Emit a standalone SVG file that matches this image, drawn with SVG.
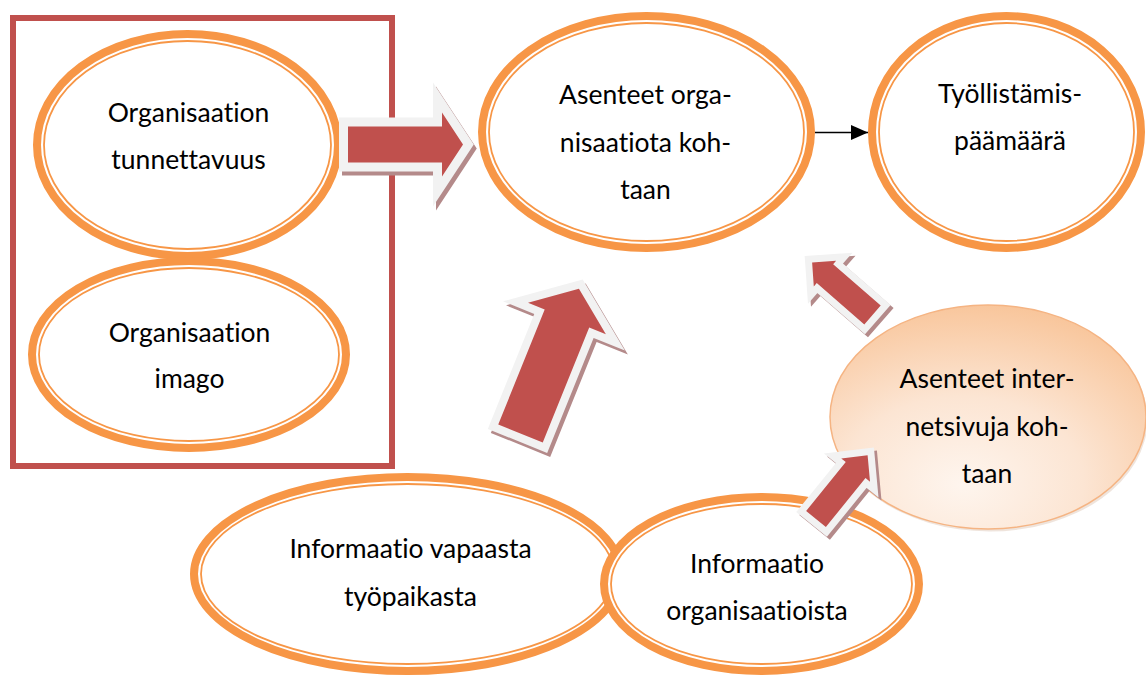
<svg xmlns="http://www.w3.org/2000/svg" width="1146" height="676" viewBox="0 0 1146 676">
<defs>
<style>
.thick{fill:#fff;stroke:#F79646;stroke-width:8}
.thin{fill:none;stroke:#F79646;stroke-width:1.8}
.lbl{font-family:Lato,"Open Sans","DejaVu Sans",sans-serif;font-size:26.5px;fill:#000;text-anchor:middle;font-variant-ligatures:none;font-feature-settings:"liga" 0,"clig" 0}
.arr{fill:#C0504D;stroke:#F2F2F2;stroke-linejoin:miter;stroke-miterlimit:8;paint-order:stroke}
.shd{fill:#B48A8A;stroke:#B48A8A;stroke-linejoin:miter;stroke-miterlimit:8}
.conn{stroke:#000;stroke-width:1.6;fill:none}
</style>
<radialGradient id="peach" cx="0.42" cy="0.78" r="0.85" fx="0.42" fy="0.8">
<stop offset="0" stop-color="#FEF5EE"/>
<stop offset="0.45" stop-color="#FCE5D3"/>
<stop offset="1" stop-color="#F8C193"/>
</radialGradient>
<marker id="ah" markerUnits="userSpaceOnUse" markerWidth="17" markerHeight="15" refX="17" refY="7.5" orient="auto">
<path d="M0,0 L17,7.5 L0,15 Z" fill="#000"/>
</marker>
</defs>
<rect width="1146" height="676" fill="#fff"/>

<rect id="group-box" x="13" y="18" width="379" height="448" fill="none" stroke="#C0504D" stroke-width="6"/>

<g id="n-tunnettavuus">
<ellipse class="thick" cx="187.5" cy="145" rx="150.5" ry="111"/>
<ellipse class="thin" cx="187.5" cy="145" rx="143.5" ry="104"/>
<text class="lbl" x="188.5" y="122">Organisaation</text>
<text class="lbl" x="188.5" y="169">tunnettavuus</text>
</g>

<g id="n-imago">
<ellipse class="thick" cx="189" cy="354.5" rx="157" ry="93.5"/>
<ellipse class="thin" cx="189" cy="354.5" rx="150" ry="86.5"/>
<text class="lbl" x="189.5" y="342">Organisaation</text>
<text class="lbl" x="189.5" y="388">imago</text>
</g>

<g id="n-asenteet-org">
<ellipse class="thick" cx="646.5" cy="132" rx="164.5" ry="116"/>
<ellipse class="thin" cx="646.5" cy="132" rx="157.5" ry="109"/>
<text class="lbl" x="645.5" y="104">Asenteet orga-</text>
<text class="lbl" x="645.5" y="152">nisaatiota koh-</text>
<text class="lbl" x="645.5" y="199">taan</text>
</g>

<g id="n-tyollistamis">
<ellipse class="thick" cx="1006.5" cy="132" rx="134.5" ry="116"/>
<ellipse class="thin" cx="1006.5" cy="132" rx="127.5" ry="109"/>
<text class="lbl" x="1010" y="103">Työllistämis-</text>
<text class="lbl" x="1010" y="150">päämäärä</text>
</g>

<g id="n-info-vapaa">
<ellipse class="thick" cx="407.5" cy="574" rx="213.5" ry="97"/>
<ellipse class="thin" cx="407.5" cy="574" rx="206.5" ry="90"/>
<text class="lbl" x="410.5" y="558">Informaatio vapaasta</text>
<text class="lbl" x="410.5" y="606">työpaikasta</text>
</g>

<g id="n-info-org">
<ellipse class="thick" cx="761.5" cy="584" rx="157.5" ry="87"/>
<ellipse class="thin" cx="761.5" cy="584" rx="150.5" ry="80"/>
<text class="lbl" x="757" y="573">Informaatio</text>
<text class="lbl" x="757" y="620">organisaatioista</text>
</g>

<g id="n-asenteet-internet">
<ellipse cx="989.5" cy="419.5" rx="158" ry="112" fill="#C9A58A" opacity="0.3"/>
<ellipse cx="988" cy="417" rx="158" ry="112" fill="url(#peach)" stroke="#F5B483" stroke-width="1.5"/>
<text class="lbl" x="987" y="388">Asenteet inter-</text>
<text class="lbl" x="987" y="436">netsivuja koh-</text>
<text class="lbl" x="987" y="483">taan</text>
</g>

<g id="connectors">
<line class="conn" x1="815" y1="132.5" x2="868" y2="132.5" marker-end="url(#ah)"/>
<g id="arrow-to-asenteet" transform="translate(348,144.5)">
<path class="shd" stroke-width="18" transform="translate(3,4)" d="M0,-18 H94 V-32 L115,0 L94,32 V18 H0 Z"/>
<path class="arr" stroke-width="18" d="M0,-18 H94 V-32 L115,0 L94,32 V18 H0 Z"/>
</g>
<g id="arrow-up-big" transform="translate(520.5,433.5) rotate(-68)">
<path class="shd" stroke-width="16" transform="rotate(68) translate(3,4) rotate(-68)" d="M0,-24 H124 V-42 L156,0 L124,42 V24 H0 Z"/>
<path class="arr" stroke-width="16" d="M0,-24 H124 V-42 L156,0 L124,42 V24 H0 Z"/>
</g>
<g id="arrow-internet-to-asenteet" transform="translate(872.5,315) rotate(-139)">
<path class="shd" stroke-width="14" transform="rotate(139) translate(3,3) rotate(-139)" d="M0,-12.5 H63 V-17 L80,0 L63,17 V12.5 H0 Z"/>
<path class="arr" stroke-width="14" d="M0,-12.5 H63 V-17 L80,0 L63,17 V12.5 H0 Z"/>
</g>
<g id="arrow-org-to-internet" transform="translate(816,519) rotate(-51)">
<path class="shd" stroke-width="14" transform="rotate(51) translate(3,3) rotate(-51)" d="M0,-12.7 H63 V-18.5 L82,0 L63,18.5 V12.7 H0 Z"/>
<path class="arr" stroke-width="14" d="M0,-12.7 H63 V-18.5 L82,0 L63,18.5 V12.7 H0 Z"/>
</g>
</g>
</svg>
